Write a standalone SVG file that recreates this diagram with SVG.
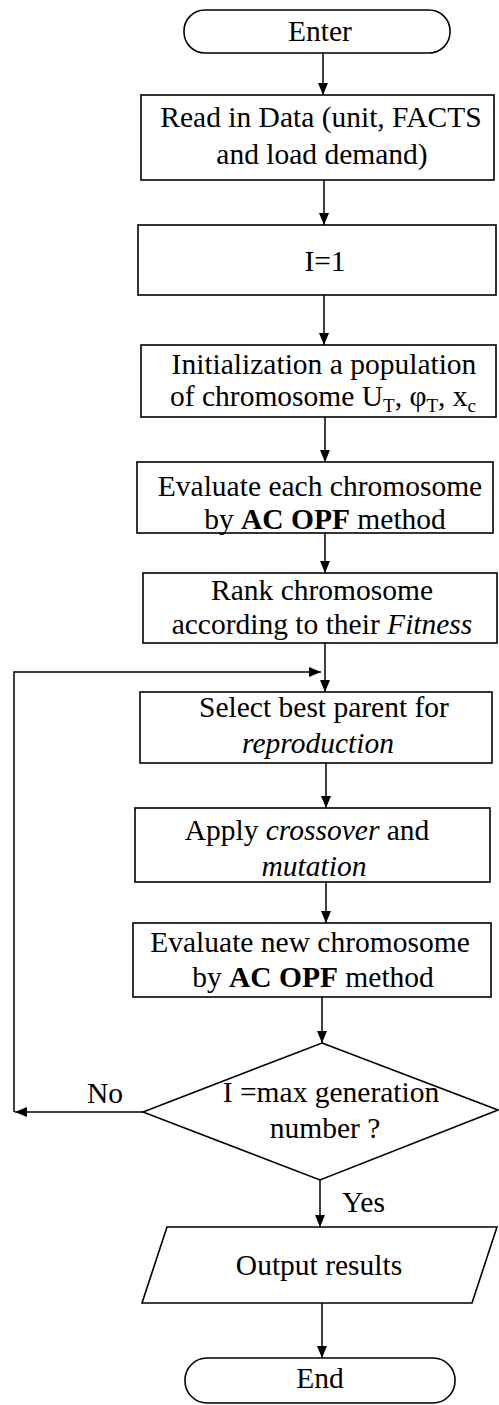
<svg xmlns="http://www.w3.org/2000/svg" width="499" height="1405" viewBox="0 0 499 1405">
  <defs>
    <marker id="arrow" markerUnits="userSpaceOnUse" markerWidth="12" markerHeight="10" refX="12" refY="5" orient="auto">
      <path d="M0,0 L12,5 L0,10 Z" fill="#000"/>
    </marker>
    <style>
      .box { fill: #fff; stroke: #000; stroke-width: 1.6; }
      .conn { fill: none; stroke: #000; stroke-width: 1.5; marker-end: url(#arrow); }
      text { font-family: "Liberation Serif", "Times New Roman", serif; font-size: 29.5px; fill: #000; text-anchor: middle; }
      .it { font-style: italic; }
      .b { font-weight: bold; }
      .sub { font-size: 19px; }
    </style>
  </defs>

  <rect width="499" height="1405" fill="#fff"/>

  <!-- flow connectors -->
  <g id="connectors">
    <path class="conn" d="M323,53 V95"/>
    <path class="conn" d="M324,180 V225"/>
    <path class="conn" d="M324,295 V345"/>
    <path class="conn" d="M325,417 V462"/>
    <path class="conn" d="M325,533 V573"/>
    <path class="conn" d="M325,643 V692"/>
    <path class="conn" d="M326,763 V808"/>
    <path class="conn" d="M326,882 V923"/>
    <path class="conn" d="M322,997 V1043"/>
    <path class="conn" d="M320,1180 V1227"/>
    <path class="conn" d="M322,1303 V1358"/>
    <!-- "No" branch back to selection -->
    <path class="conn" d="M143,1112 H15"/>
    <path class="conn" d="M14,1112 V672 H321"/>
    <text x="105" y="1103">No</text>
    <text x="342" y="1212" style="text-anchor:start">Yes</text>
  </g>

  <g id="enter">
    <rect class="box" x="184" y="10" width="266" height="43" rx="21"/>
    <text x="320" y="41">Enter</text>
  </g>

  <g id="read-data">
    <rect class="box" x="141" y="95" width="353" height="85"/>
    <text x="321" y="127">Read in Data (unit, FACTS</text>
    <text x="322" y="164">and load demand)</text>
  </g>

  <g id="init-counter">
    <rect class="box" x="138" y="225" width="358" height="70"/>
    <text x="325" y="271">I=1</text>
  </g>

  <g id="init-population">
    <rect class="box" x="141" y="345" width="355" height="72"/>
    <text x="324" y="374">Initialization a population</text>
    <text x="323" y="406">of chromosome U<tspan class="sub" dy="6">T</tspan><tspan dy="-6">, φ</tspan><tspan class="sub" dy="6">T</tspan><tspan dy="-6">, x</tspan><tspan class="sub" dy="6">c</tspan></text>
  </g>

  <g id="evaluate-each">
    <rect class="box" x="137" y="462" width="356" height="71"/>
    <text x="320" y="496">Evaluate each chromosome</text>
    <text x="325" y="529">by <tspan class="b">AC OPF</tspan> method</text>
  </g>

  <g id="rank">
    <rect class="box" x="143" y="573" width="354" height="70"/>
    <text x="322" y="600">Rank chromosome</text>
    <text x="322" y="634">according to their <tspan class="it">Fitness</tspan></text>
  </g>

  <g id="select">
    <rect class="box" x="140" y="692" width="352" height="71"/>
    <text x="324" y="717">Select best parent for</text>
    <text x="318" y="753" class="it">reproduction</text>
  </g>

  <g id="crossover">
    <rect class="box" x="135" y="808" width="355" height="74"/>
    <text x="307" y="840">Apply <tspan class="it">crossover</tspan> and</text>
    <text x="314" y="876" class="it">mutation</text>
  </g>

  <g id="evaluate-new">
    <rect class="box" x="133" y="923" width="358" height="74"/>
    <text x="310" y="952">Evaluate new chromosome</text>
    <text x="313" y="987">by <tspan class="b">AC OPF</tspan> method</text>
  </g>

  <g id="max-generation">
    <polygon class="box" points="322,1043 498,1110 320,1180 143,1112"/>
    <text x="331" y="1102">I =max generation</text>
    <text x="325" y="1138">number ?</text>
  </g>

  <g id="output">
    <polygon class="box" points="167,1227 497,1227 472,1303 142,1303"/>
    <text x="319" y="1275">Output results</text>
  </g>

  <g id="end">
    <rect class="box" x="185" y="1358" width="270" height="45" rx="22"/>
    <text x="320" y="1388">End</text>
  </g>
</svg>
